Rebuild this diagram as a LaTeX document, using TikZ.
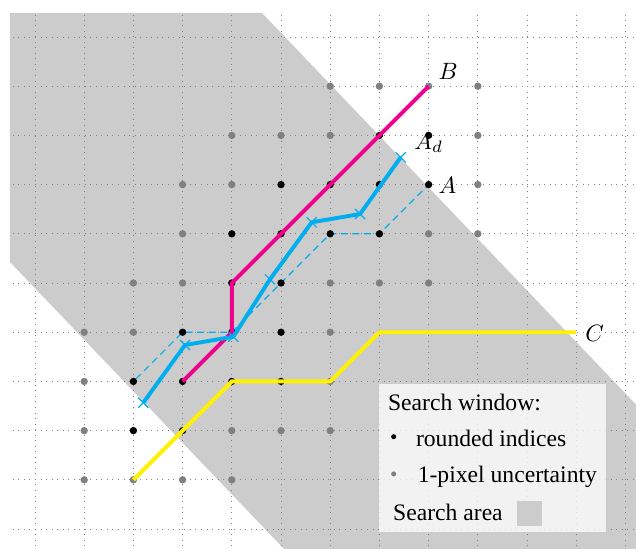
\documentclass[tikz,border=0pt]{standalone}
\usepackage{fix-cm}
\usepackage{fontspec}
\setmainfont{Liberation Serif}
\usetikzlibrary{calc}
\definecolor{cmag}{RGB}{236,0,140}
\definecolor{ccyan}{RGB}{0,174,239}
\definecolor{cyel}{RGB}{255,242,0}
\definecolor{areagray}{RGB}{204,204,204}
\definecolor{dotgray}{RGB}{128,128,128}
\tikzset{
  gridline/.style={dotted, draw=dotgray, line width=0.4pt},
  bdot/.style={fill=black},
  gdot/.style={fill=dotgray},
  thickpath/.style={line width=1.7pt, line join=miter},
  dashpath/.style={draw=ccyan, line width=0.5pt, dash pattern=on 3pt off 2pt},
  crossmark/.style={draw=ccyan, line width=0.5pt},
  lbl/.style={anchor=base west, inner sep=0pt, outer sep=0pt},
}
\begin{document}
\begin{tikzpicture}[x=0.75cm, y=0.75cm, font=\fontsize{10.25}{12.3}\selectfont]
\useasboundingbox (-0.711,-10.386) rectangle (12.215,0.752);
\begin{scope}
\clip (-0.711,-10.386) rectangle (12.215,0.752);
% search area
\fill[areagray] (-0.508,0.488) -- (4.614,0.488) -- (12.6,-7.873) -- (12.6,-10.8) -- (5.439,-10.8) -- (-0.508,-4.573) -- cycle;
% grid
\draw[gridline, step=0.75cm] (-0.45,-10.8) grid (12.8,0.45);
\end{scope}
% path A (rounded), dashed
\coordinate (a0) at (2.05,-6.95);
\coordinate (a1) at (3,-6);
\coordinate (a2) at (4,-6);
\coordinate (a3) at (6,-4);
\coordinate (a4) at (7,-4);
\coordinate (a5) at (8,-3);
\draw[dashpath] (a0) -- (a1) -- (a2) -- (a3) -- (a4) -- (a5);
% search window dots
\foreach \x/\y in {7/2,8/2, 5/3,6/3,7/3,8/3, 4/4,5/4,6/4,7/4, 4/5,5/5, 3/6,4/6,5/6, 2/7,3/7,4/7,5/7, 2/8,3/8}
  \fill[bdot] (\x,-\y) circle (1.6pt);
\foreach \x/\y in {6/1,7/1,8/1,9/1, 4/2,5/2,6/2,9/2, 3/3,4/3,9/3, 3/4,8/4,9/4, 2/5,3/5,6/5,7/5,8/5, 1/6,2/6,6/6, 1/7,6/7, 1/8,4/8,5/8,6/8, 1/9,2/9,3/9,4/9}
  \fill[gdot] (\x,-\y) circle (1.6pt);
% path A_d
\coordinate (d1) at (2.201,-7.433);
\coordinate (d2) at (3.049,-6.260);
\coordinate (d3) at (4.031,-6.091);
\coordinate (d4) at (4.776,-4.925);
\coordinate (d5) at (5.624,-3.766);
\coordinate (d6) at (6.606,-3.598);
\coordinate (d7) at (7.433,-2.445);
% path B
\coordinate (b0) at (3,-7);
\coordinate (b1) at (4,-6);
\coordinate (b2) at (4,-5);
\coordinate (b3) at (8,-1);
\draw[thickpath, draw=cmag] (b0) -- (b1) -- (b2) -- (b3);
\draw[thickpath, draw=ccyan] (d1) -- (d2) -- (d3) -- (d4) -- (d5) -- (d6) -- (d7);
\foreach \p in {d1,d2,d3,d4,d5,d6,d7}
  \draw[crossmark] ([shift={(-2.2pt,-2.2pt)}]\p) -- ([shift={(2.2pt,2.2pt)}]\p)
                   ([shift={(-2.2pt,2.2pt)}]\p) -- ([shift={(2.2pt,-2.2pt)}]\p);
% path C
\coordinate (c0) at (2,-9);
\coordinate (c1) at (4,-7);
\coordinate (c2) at (6,-7);
\coordinate (c3) at (7,-6);
\coordinate (c4) at (11,-6);
\draw[thickpath, draw=cyel] (c0) -- (c1) -- (c2) -- (c3) -- (c4);
% labels
\node[lbl] (labB) at (8.205,-0.86) {$B$};
\node[lbl] (labAd) at (7.71,-2.283) {$A_d$};
\node[lbl] (labA) at (8.205,-3.177) {$A$};
\node[lbl] (labC) at (11.185,-6.179) {$C$};
% legend
\fill[white, fill opacity=0.75] (6.992,-10.061) rectangle (11.605,-7.053);
\node[lbl] (lt1) at (7.175,-7.596) {Search window:};
\fill[black] (7.29,-8.124) circle (1.1pt);
\node[lbl] (lt2) at (7.744,-8.327) {rounded indices};
\fill[dotgray] (7.29,-8.88) circle (1.1pt);
\node[lbl] (lt3) at (7.78,-9.05) {1-pixel uncertainty};
\node[lbl] (lt4) at (7.28,-9.83) {Search area};
\fill[areagray] (9.797,-9.94) rectangle (10.305,-9.43);
\end{tikzpicture}
\end{document}
